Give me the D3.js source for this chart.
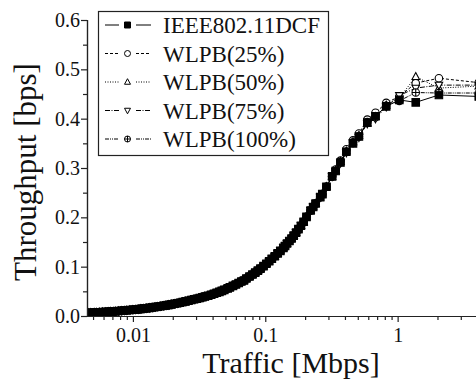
<!DOCTYPE html>
<html>
<head>
<meta charset="utf-8">
<script src="https://cdn.jsdelivr.net/npm/d3@7"></script>
<style>
  body { margin: 0; background: #fff; }
  svg { display: block; font-family: "Liberation Serif", "Times New Roman", serif; }
</style>
</head>
<body>
<svg id="chart" width="476" height="381"></svg>
<script>
"use strict";

// offered traffic [Mbps], shared by every series
const traffic = [
  4.1, 2.05, 1.37, 1.03, 0.82, 0.68, 0.59, 0.51, 0.46, 0.41,
  0.37, 0.34, 0.32, 0.29, 0.27, 0.26, 0.24, 0.23, 0.22, 0.205,
  0.195, 0.186, 0.178, 0.171, 0.164, 0.158, 0.152, 0.146, 0.141, 0.137,
  0.13, 0.124, 0.118, 0.112, 0.107, 0.102, 0.097, 0.092, 0.088, 0.084,
  0.080, 0.076, 0.072, 0.069, 0.066, 0.063, 0.060, 0.057, 0.054, 0.052,
  0.049, 0.047, 0.045, 0.043, 0.041, 0.039, 0.037, 0.035, 0.0335, 0.032,
  0.0305, 0.029, 0.0276, 0.0263, 0.025, 0.0238, 0.0227, 0.0216, 0.0206, 0.0196,
  0.0187, 0.0178, 0.017, 0.0162, 0.0154, 0.0147, 0.014, 0.0133, 0.0127, 0.0121,
  0.0115, 0.011, 0.0105, 0.01, 0.0095, 0.009, 0.0086, 0.0082, 0.0078, 0.0074,
  0.0071, 0.0068, 0.0065, 0.0062, 0.0059, 0.0056, 0.0053, 0.0051, 0.0048, 0.0046,
  0.0044
];

// throughput at the high-traffic end (first 12 traffic values), per series
const ieeeHead    = [0.445, 0.448, 0.433, 0.438, 0.425, 0.405, 0.392, 0.364, 0.350, 0.333, 0.311, 0.294];
const wlpb25Head  = [0.473, 0.482, 0.472, 0.445, 0.432, 0.412, 0.398, 0.370, 0.356, 0.338, 0.315, 0.297];
const wlpb50Head  = [0.466, 0.462, 0.485, 0.442, 0.427, 0.404, 0.391, 0.366, 0.353, 0.334, 0.313, 0.295];
const wlpb75Head  = [0.468, 0.468, 0.462, 0.447, 0.424, 0.400, 0.390, 0.362, 0.351, 0.331, 0.310, 0.293];
const wlpb100Head = [0.452, 0.452, 0.453, 0.436, 0.426, 0.403, 0.393, 0.364, 0.352, 0.333, 0.312, 0.294];

// below ~0.33 Mbps the five curves lie on top of each other
const sharedTail = [
  0.283, 0.262, 0.247, 0.241, 0.228, 0.221, 0.214, 0.201,
  0.191, 0.183, 0.176, 0.169, 0.163, 0.157, 0.152, 0.147, 0.142, 0.138,
  0.132, 0.127, 0.121, 0.116, 0.111, 0.106, 0.101, 0.096, 0.092, 0.088,
  0.084, 0.080, 0.076, 0.072, 0.070, 0.067, 0.064, 0.061, 0.058, 0.056,
  0.053, 0.051, 0.049, 0.047, 0.045, 0.043, 0.041, 0.0395, 0.038, 0.0365,
  0.035, 0.034, 0.0325, 0.031, 0.0296, 0.0283, 0.027, 0.0258, 0.0247, 0.0236,
  0.0226, 0.0216, 0.0207, 0.0198, 0.0189, 0.0181, 0.0173, 0.0165, 0.0158, 0.0151,
  0.0144, 0.0138, 0.0132, 0.0128, 0.0122, 0.0116, 0.0111, 0.0106, 0.0101, 0.0096,
  0.0093, 0.0089, 0.0085, 0.0082, 0.0078, 0.0074, 0.0071, 0.0068, 0.0065, 0.0062,
  0.0060
];

const seriesNames = ["IEEE802.11DCF", "WLPB(25%)", "WLPB(50%)", "WLPB(75%)", "WLPB(100%)"];
const seriesHeads = [ieeeHead, wlpb25Head, wlpb50Head, wlpb75Head, wlpb100Head];
const seriesDash = [null, "3,2", "1,1.5", "5,1.5,1,1.5", "4,1,1,1,1,1"];
const seriesShape = ["square", "circle", "triUp", "triDown", "crossCircle"];

const xMajorTicks = [0.01, 0.1, 1];
const xMinorTicks = [0.005, 0.006, 0.007, 0.008, 0.009, 0.02, 0.03, 0.04, 0.05, 0.06, 0.07, 0.08, 0.09,
                     0.2, 0.3, 0.4, 0.5, 0.6, 0.7, 0.8, 0.9, 2, 3, 4, 5];
const yMajorTicks = [0.0, 0.1, 0.2, 0.3, 0.4, 0.5, 0.6];
const yMinorTicks = [0.05, 0.15, 0.25, 0.35, 0.45, 0.55];

const svg = d3.select("#chart");
const plot = {left: 87, right: 476, top: 20, bottom: 316};

let x = d3.scaleLog().domain([0.0045, 10]).range([plot.left, 530]);
let y = d3.scaleLinear().domain([0, 0.6]).range([plot.bottom, plot.top]);

// marker outlines, centred on 0,0
function markerPath(shape, s) {
  const h = s / 2;
  if (shape === "square") return `M${-h},${-h}H${h}V${h}H${-h}Z`;
  if (shape === "circle") return d3.arc()({innerRadius: 0, outerRadius: h, startAngle: 0, endAngle: 2 * Math.PI});
  if (shape === "triUp") return `M0,${-h * 1.1}L${h},${h * 0.75}L${-h},${h * 0.75}Z`;
  if (shape === "triDown") return `M0,${h * 1.1}L${h},${-h * 0.75}L${-h},${-h * 0.75}Z`;
  const c = d3.arc()({innerRadius: 0, outerRadius: h, startAngle: 0, endAngle: 2 * Math.PI});
  return c + `M${-h},0H${h}M0,${-h}V${h}`;
}

svg.append("defs").append("clipPath").attr("id", "plotClip")
  .append("rect")
  .attr("x", plot.left).attr("y", 0)
  .attr("width", 600).attr("height", plot.bottom + 1);

const data = seriesNames.map((name, i) => ({
  name: name,
  shape: seriesShape[i],
  dash: seriesDash[i],
  points: traffic.map((t, j) => ({t: t, v: seriesHeads[i].concat(sharedTail)[j]}))
}));

const line = d3.line().x(d => x(d.t)).y(d => y(d.v));
const body = svg.append("g").attr("clip-path", "url(#plotClip)");

// draw IEEE last so its filled squares sit on top
const drawOrder = [1, 2, 3, 4, 0];
drawOrder.forEach(i => {
  const s = data[i];
  const g = body.append("g");
  g.append("path")
    .attr("d", line(s.points))
    .attr("fill", "none")
    .attr("stroke", "#000")
    .attr("stroke-width", 1)
    .attr("stroke-dasharray", s.dash);
  g.selectAll("path.m")
    .data(s.points)
    .join("path")
    .attr("class", "m")
    .attr("transform", d => `translate(${x(d.t)},${y(d.v)})`)
    .attr("d", markerPath(s.shape, 7.5))
    .attr("fill", s.shape === "square" ? "#000" : "#fff")
    .attr("stroke", "#000")
    .attr("stroke-width", 1.1);
});

// axes
const axisColor = "#222";
const gx = svg.append("g").attr("transform", `translate(0,${plot.bottom})`);
gx.append("g").call(d3.axisBottom(x).tickValues(xMinorTicks).tickSize(4).tickFormat(""));
gx.append("g").call(d3.axisBottom(x).tickValues(xMajorTicks).tickSize(6).tickPadding(6)
  .tickFormat(d3.format("")));
gx.selectAll(".domain").attr("d", `M${plot.left},0.5H600`);

const gy = svg.append("g").attr("transform", `translate(${plot.left},0)`);
gy.append("g").call(d3.axisLeft(y).tickValues(yMinorTicks).tickSize(4).tickFormat(""));
gy.append("g").call(d3.axisLeft(y).tickValues(yMajorTicks).tickSize(6).tickPadding(1)
  .tickFormat(d3.format(".1f")));

svg.selectAll(".domain, .tick line").attr("stroke", axisColor).attr("stroke-width", 1.2);
svg.selectAll(".tick text")
  .attr("fill", "#111")
  .style("font-family", "Liberation Serif")
  .style("font-size", "20px");

// axis titles
svg.append("text")
  .attr("x", 291).attr("y", 373)
  .attr("text-anchor", "middle")
  .style("font-size", "30px")
  .attr("fill", "#111")
  .text("Traffic [Mbps]");

svg.append("text")
  .attr("transform", "translate(36,172) rotate(-90)")
  .attr("text-anchor", "middle")
  .style("font-size", "31px")
  .attr("fill", "#111")
  .text("Throughput [bps]");

// legend
const legend = svg.append("g");
legend.append("rect")
  .attr("x", 98.5).attr("y", 11.5)
  .attr("width", 230).attr("height", 144)
  .attr("fill", "#fff")
  .attr("stroke", "#222")
  .attr("stroke-width", 1.2);

const rowY = d3.scalePoint().domain(seriesNames).range([25, 139]);
data.forEach(s => {
  const row = legend.append("g").attr("transform", `translate(0,${rowY(s.name)})`);
  [[105, 119], [136, 151]].forEach(([a, b]) => {
    row.append("line")
      .attr("x1", a).attr("x2", b)
      .attr("stroke", "#000").attr("stroke-width", 1)
      .attr("stroke-dasharray", s.dash);
  });
  row.append("path")
    .attr("transform", "translate(127.5,0)")
    .attr("d", markerPath(s.shape, 6))
    .attr("fill", s.shape === "square" ? "#000" : "#fff")
    .attr("stroke", "#000");
  row.append("text")
    .attr("x", 163).attr("dy", "0.35em")
    .style("font-size", "23px")
    .attr("fill", "#111")
    .text(s.name);
});
</script>
</body>
</html>
